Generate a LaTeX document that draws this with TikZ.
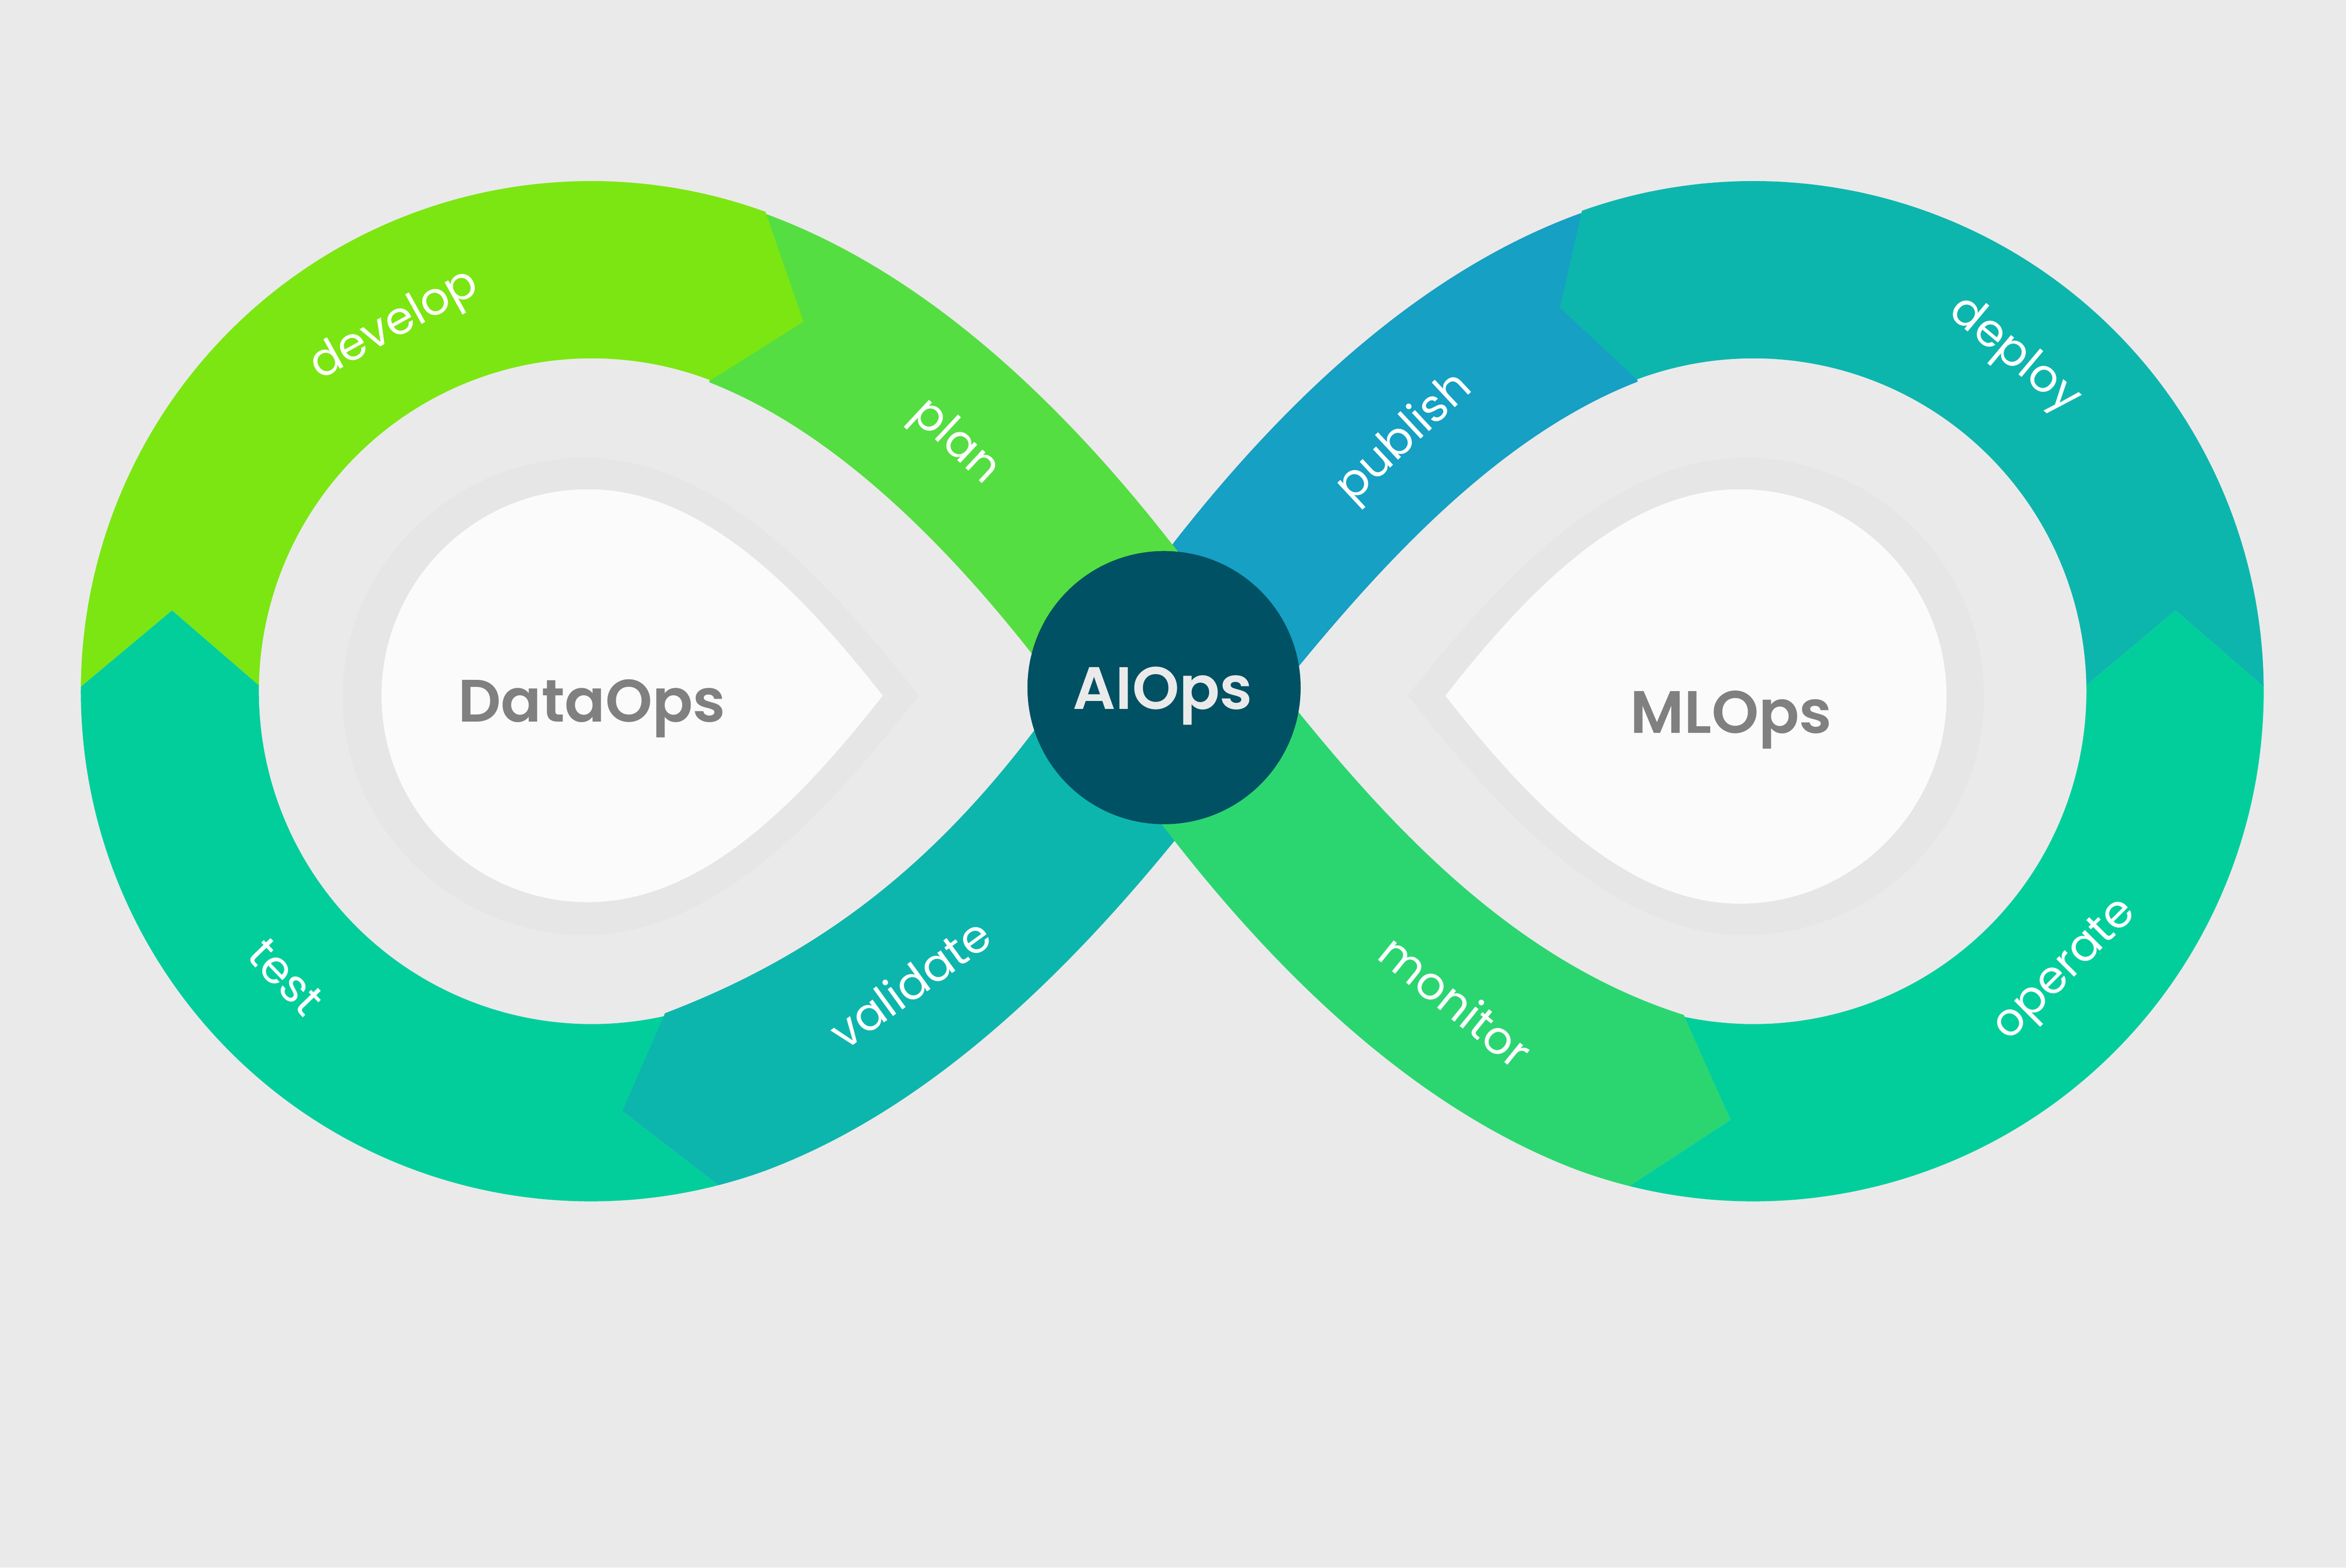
\documentclass[tikz,border=0pt]{standalone}
\usepackage{fontspec}
\setmainfont{Poppins}[BoldFont={Poppins SemiBold}]
\definecolor{bgc}{HTML}{EAEAEA}
\definecolor{developc}{HTML}{7CE612}
\definecolor{planc}{HTML}{55DE41}
\definecolor{publishc}{HTML}{15A0C4}
\definecolor{deployc}{HTML}{0DB6AD}
\definecolor{operatec}{HTML}{02CE9C}
\definecolor{monitorc}{HTML}{2BD671}
\definecolor{haloc}{HTML}{E6E6E6}
\definecolor{dropc}{HTML}{FBFBFB}
\definecolor{hubc}{HTML}{005163}
\definecolor{grayt}{HTML}{808080}
\tikzset{
  ringpts/.style={samples=160},
  stagelabel/.style={text=white,inner sep=0pt,font=\fontsize{30.5}{36}\selectfont},
  titlelabel/.style={text=grayt,inner sep=0pt,font=\bfseries\fontsize{40}{48}\selectfont},
  hublabel/.style={text=bgc,inner sep=0pt,font=\bfseries\fontsize{40}{48}\selectfont},
}
\begin{document}
\begin{tikzpicture}[x=1pt,y=-1pt]
\fill[bgc] (0,0) rectangle (1568,1047.8);
\useasboundingbox (0,0) rectangle (1568,1047.8);
% publish
\fill[publishc] (1058,142.7) -- (1056.5,142.5) .. controls (948.4,181.6) and (857,270) .. (785,362) -- (778,372) -- (778,460) -- (860,455) -- (868.4,444.9) .. controls (930,370) and (1006,289.3) .. (1094.6,255.1) -- cycle;
% plan
\fill[planc] (510.5,142.5) .. controls (618.6,181.6) and (710,270) .. (782,362) -- (790,372) -- (778,460) -- (700,450) -- (689.4,436.6) .. controls (637,370) and (561,289.3) .. (474,255.5) -- cycle;
% develop
\fill[developc] plot[ringpts,domain=180.5:290] ({395+341*cos(\x)},{462+341*sin(\x)}) -- (537,215) -- plot[ringpts,domain=290.9:181] ({395.5+222.5*cos(\x)},{462+222.5*sin(\x)}) -- (115,408) -- cycle;
% test
\fill[operatec] plot[ringpts,domain=180.5:75.55] ({395+341*cos(\x)},{462+341*sin(\x)}) -- (415.9,742.6) -- plot[ringpts,domain=77.2:181] ({395.5+222.5*cos(\x)},{462+222.5*sin(\x)}) -- (115,408) -- cycle;
% deploy
\fill[deployc] plot[ringpts,domain=250.35:359.5] ({1172+341*cos(\x)},{462+341*sin(\x)}) -- (1454,408) -- plot[ringpts,domain=359:249.5] ({1172+222.5*cos(\x)},{462+222.5*sin(\x)}) -- (1042.6,205.7) -- cycle;
% operate
\fill[operatec] plot[ringpts,domain=-0.5:104.1] ({1172+341*cos(\x)},{462+341*sin(\x)}) -- (1156.5,748.5) -- plot[ringpts,domain=102:-1] ({1172+222.5*cos(\x)},{462+222.5*sin(\x)}) -- (1454,408) -- cycle;
% validate
\fill[deployc] plot[ringpts,domain=75.55:70] ({395+341*cos(\x)},{462+341*sin(\x)}) .. controls (618.6,742.4) and (710,654) .. (785,562) -- (792,552) -- (778,460) -- (700,476) -- (691.1,488.4) .. controls (621,581) and (545,639) .. (444.5,677.2) -- (415.9,742.6) -- cycle;
% monitor
\fill[monitorc] plot[ringpts,domain=104.1:110] ({1172+341*cos(\x)},{462+341*sin(\x)}) .. controls (948.4,742.4) and (857,654) .. (785,562) -- (775,549) -- (778,460) -- (860,466) -- (868,476.1) .. controls (940,565) and (1020,645) .. (1125.4,678.4) -- (1156.5,748.5) -- cycle;
% left drop
\fill[haloc] (391,306) .. controls (480,306) and (555,390) .. (614,465) .. controls (555,540) and (480,625) .. (391,625) .. controls (303,625) and (229,553) .. (229,465.5) .. controls (229,378) and (303,306) .. (391,306) -- cycle;
\fill[dropc] (393,327) .. controls (470,327) and (535,395) .. (590,465) .. controls (535,535) and (470,603) .. (393,603) .. controls (317,603) and (255,541) .. (255,465) .. controls (255,389) and (317,327) .. (393,327) -- cycle;
% right drop
\fill[haloc] (1166,306) .. controls (1077,306) and (1000,390) .. (941,465) .. controls (1000,540) and (1077,625) .. (1166,625) .. controls (1254,625) and (1326,553) .. (1326,465.5) .. controls (1326,378) and (1254,306) .. (1166,306) -- cycle;
\fill[dropc] (1163,327) .. controls (1086,327) and (1021,395) .. (966,465) .. controls (1021,535) and (1086,604) .. (1163,604) .. controls (1239,604) and (1301,541) .. (1301,465.5) .. controls (1301,389) and (1239,327) .. (1163,327) -- cycle;
% hub
\fill[hubc] (778,459.6) circle[radius=91.3pt];
\node[hublabel] (aiops) at (777,465) {AIOps};
\node[titlelabel] (dataops) at (395.5,473.5) {DataOps};
\node[titlelabel] (mlops) at (1157,481) {MLOps};
\node[stagelabel,rotate=29] (develop) at (264,218) {develop};
\node[stagelabel,rotate=-43] (plan) at (638,296) {plan};
\node[stagelabel,rotate=43] (publish) at (939,293) {publish};
\node[stagelabel,rotate=-40] (deploy) at (1346,238) {deploy};
\node[stagelabel,rotate=45] (operate) at (1381,649) {operate};
\node[stagelabel,rotate=-39] (monitor) at (973,669) {monitor};
\node[stagelabel,rotate=36] (validate) at (608,657) {validate};
\node[stagelabel,rotate=-46] (test) at (191,653) {test};
\end{tikzpicture}
\end{document}
